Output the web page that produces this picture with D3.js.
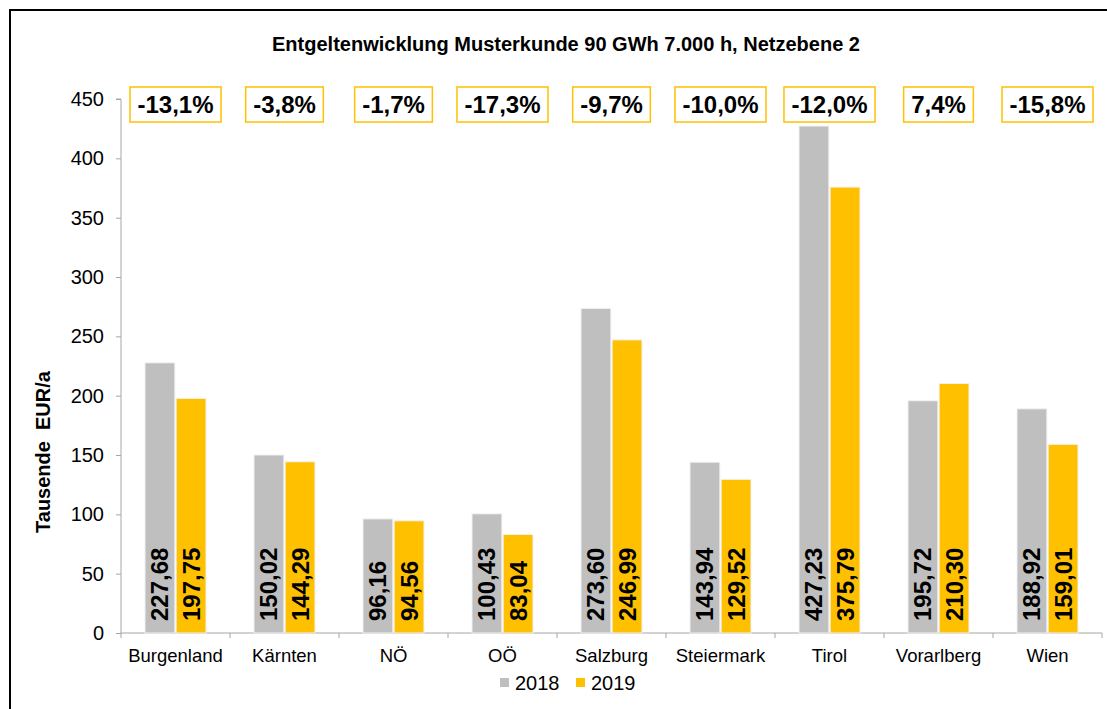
<!DOCTYPE html>
<html>
<head>
<meta charset="utf-8">
<script src="https://cdn.jsdelivr.net/npm/d3@7"></script>
<style>
  body { margin: 0; background: #fff; }
  svg { font-family: Arial, "Liberation Sans", sans-serif; display: block; }
</style>
</head>
<body>
<div id="chart"></div>
<script>
/* DATA */
const regions = ["Burgenland", "Kärnten", "NÖ", "OÖ", "Salzburg", "Steiermark", "Tirol", "Vorarlberg", "Wien"];
const values2018 = [227.68, 150.02, 96.16, 100.43, 273.60, 143.94, 427.23, 195.72, 188.92];
const values2019 = [197.75, 144.29, 94.56, 83.04, 246.99, 129.52, 375.79, 210.30, 159.01];
const changes = [-13.1, -3.8, -1.7, -17.3, -9.7, -10.0, -12.0, 7.4, -15.8];
const yTicks = [0, 50, 100, 150, 200, 250, 300, 350, 400, 450];
const years = ["2018", "2019"];

/* CONSTANTS */
const width = 1107, height = 709;
const margin = { top: 99, bottom: 76, left: 121, right: 5 };
const colors = { "2018": "#BFBFBF", "2019": "#FFC000" };
const fmt = v => v.toFixed(2).replace(".", ",");
const fmtPct = v => v.toFixed(1).replace(".", ",") + "%";

const svg = d3.select("#chart").append("svg")
  .attr("width", width)
  .attr("height", height);

// outer frame
svg.append("rect")
  .attr("x", 10).attr("y", 10)
  .attr("width", width + 10).attr("height", height + 10)
  .attr("fill", "none")
  .attr("stroke", "#000")
  .attr("stroke-width", 2);

// title
svg.append("text")
  .attr("x", 566).attr("y", 51)
  .attr("text-anchor", "middle")
  .attr("font-weight", "bold")
  .attr("font-size", 20)
  .text("Entgeltenwicklung Musterkunde 90 GWh 7.000 h, Netzebene 2");

/* SCALES */
const xScale = d3.scaleBand()
  .domain(regions)
  .range([margin.left, width - margin.right]);

const xInner = d3.scaleBand()
  .domain(years)
  .range([0, 61])
  .paddingInner(0.04);

const yScale = d3.scaleLinear()
  .domain([0, 450])
  .range([height - margin.bottom, margin.top]);

/* AXES */
const yAxis = d3.axisLeft(yScale)
  .tickValues(yTicks)
  .tickSize(5)
  .tickPadding(12);

const yG = svg.append("g")
  .attr("transform", `translate(${margin.left},0)`)
  .call(yAxis);
yG.selectAll("path, line").attr("stroke", "#a6a6a6");
yG.select(".domain").attr("d", `M-5,${yScale(450)}H0V${yScale(0)}`);
yG.selectAll("text").attr("font-size", 20).attr("fill", "#000").attr("font-family", null);

const xG = svg.append("g")
  .attr("transform", `translate(0,${yScale(0)})`)
  .call(d3.axisBottom(xScale).tickSize(0).tickPadding(16));
xG.select(".domain").attr("stroke", "#a6a6a6").attr("d", `M${margin.left},0H${width - margin.right}`);
xG.selectAll("text").attr("font-size", 18.5).attr("fill", "#000").attr("font-family", null);

// category separators
svg.append("g").selectAll("line")
  .data(regions.map((r, i) => i).concat([regions.length]))
  .join("line")
  .attr("x1", i => margin.left + i * xScale.bandwidth())
  .attr("x2", i => margin.left + i * xScale.bandwidth())
  .attr("y1", yScale(0))
  .attr("y2", yScale(0) + 5)
  .attr("stroke", "#a6a6a6");

/* BARS */
const rows = regions.map((r, i) => ({ region: r, "2018": values2018[i], "2019": values2019[i], change: changes[i] }));

const groups = svg.append("g").selectAll("g")
  .data(rows)
  .join("g")
  .attr("transform", d => `translate(${xScale(d.region) + (xScale.bandwidth() - 61) / 2},0)`);

groups.selectAll("rect")
  .data(d => years.map(y => ({ year: y, value: d[y] })))
  .join("rect")
  .attr("x", d => xInner(d.year))
  .attr("y", d => yScale(d.value))
  .attr("width", xInner.bandwidth())
  .attr("height", d => yScale(0) - yScale(d.value))
  .attr("fill", d => colors[d.year])
  .attr("stroke", "#f2f2f2")
  .attr("stroke-width", 1);

groups.selectAll("text.val")
  .data(d => years.map(y => ({ year: y, value: d[y] })))
  .join("text")
  .attr("class", "val")
  .attr("transform", d => `translate(${xInner(d.year) + xInner.bandwidth() / 2 + 8.5},${yScale(0) - 12}) rotate(-90)`)
  .attr("font-size", 24)
  .attr("font-weight", "bold")
  .text(d => fmt(d.value));

/* CHANGE BOXES */
const boxes = svg.append("g").selectAll("g")
  .data(rows)
  .join("g")
  .attr("transform", d => `translate(${xScale(d.region) + xScale.bandwidth() / 2},0)`);

boxes.append("text")
  .attr("x", 0).attr("y", 113)
  .attr("text-anchor", "middle")
  .attr("font-size", 24)
  .attr("font-weight", "bold")
  .text(d => fmtPct(d.change));

boxes.insert("rect", "text")
  .each(function () {
    const w = d3.select(this.parentNode).select("text").node().getComputedTextLength() + 15;
    d3.select(this)
      .attr("x", -w / 2).attr("y", 87)
      .attr("width", w).attr("height", 35);
  })
  .attr("fill", "#fff")
  .attr("stroke", "#FFC000")
  .attr("stroke-width", 1.5);

/* Y LABEL */
svg.append("text")
  .attr("transform", `translate(50,452) rotate(-90)`)
  .attr("text-anchor", "middle")
  .attr("font-size", 20)
  .attr("font-weight", "bold")
  .attr("xml:space", "preserve")
  .text("Tausende  EUR/a");

/* LEGEND */
const legend = svg.append("g").selectAll("g")
  .data(years)
  .join("g")
  .attr("transform", (d, i) => `translate(${500 + i * 76},678)`);

legend.append("rect")
  .attr("width", 9).attr("height", 9)
  .attr("fill", d => colors[d]);

legend.append("text")
  .attr("x", 15).attr("y", 12)
  .attr("font-size", 20)
  .text(d => d);
</script>
</body>
</html>
